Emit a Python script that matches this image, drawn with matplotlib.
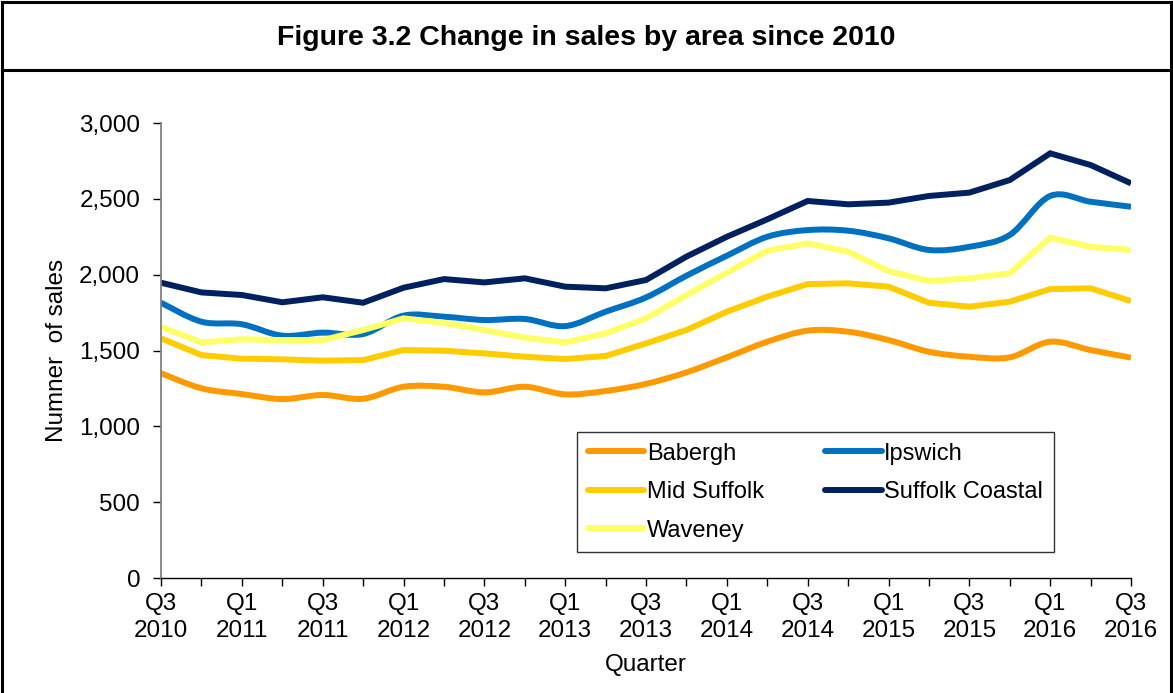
import matplotlib.pyplot as plt
from matplotlib.path import Path
from matplotlib.patches import PathPatch
from matplotlib.lines import Line2D
from matplotlib.ticker import FuncFormatter

plt.rcParams['font.family'] = ['Liberation Sans', 'DejaVu Sans']

quarters = ['Q3 2010', 'Q4 2010', 'Q1 2011', 'Q2 2011', 'Q3 2011', 'Q4 2011',
            'Q1 2012', 'Q2 2012', 'Q3 2012', 'Q4 2012', 'Q1 2013', 'Q2 2013',
            'Q3 2013', 'Q4 2013', 'Q1 2014', 'Q2 2014', 'Q3 2014', 'Q4 2014',
            'Q1 2015', 'Q2 2015', 'Q3 2015', 'Q4 2015', 'Q1 2016', 'Q2 2016',
            'Q3 2016']

babergh = [1350, 1251, 1213, 1180, 1207, 1182, 1261, 1261, 1224, 1261, 1211, 1233,
           1280, 1356, 1455, 1558, 1631, 1624, 1569, 1492, 1459, 1455, 1558, 1503,
           1453]
ipswich = [1815, 1690, 1673, 1598, 1618, 1609, 1730, 1723, 1701, 1708, 1661, 1756,
           1850, 1993, 2125, 2250, 2294, 2290, 2240, 2163, 2184, 2262, 2519, 2481,
           2448]
mid_suffolk = [1580, 1470, 1446, 1442, 1433, 1437, 1503, 1499, 1481, 1459, 1444, 1464,
               1547, 1635, 1756, 1855, 1938, 1943, 1921, 1815, 1789, 1822, 1905, 1910,
               1826]
suffolk_coastal = [1947, 1883, 1866, 1818, 1851, 1815, 1914, 1971, 1949, 1976, 1921,
                   1910, 1965, 2119, 2250, 2365, 2486, 2464, 2475, 2519, 2541, 2624,
                   2800, 2723, 2602]
waveney = [1657, 1554, 1574, 1569, 1569, 1635, 1712, 1683, 1635, 1585, 1554, 1613,
           1712, 1866, 2013, 2158, 2207, 2152, 2024, 1958, 1976, 2009, 2244, 2184,
           2163]

series = [
    ('Babergh', babergh, '#FF9900', True),
    ('Ipswich', ipswich, '#0070C0', True),
    ('Mid Suffolk', mid_suffolk, '#FFCC00', False),
    ('Suffolk Coastal', suffolk_coastal, '#002060', False),
    ('Waveney', waveney, '#FFFF66', False),
]


def smooth_path(xs, ys):
    # excel style smoothed line: cubic bezier through every point
    n = len(xs)
    verts = [(xs[0], ys[0])]
    codes = [Path.MOVETO]
    for i in range(n - 1):
        p0 = max(i - 1, 0)
        p3 = min(i + 2, n - 1)
        c1 = (xs[i] + (xs[i + 1] - xs[p0]) / 6, ys[i] + (ys[i + 1] - ys[p0]) / 6)
        c2 = (xs[i + 1] - (xs[p3] - xs[i]) / 6, ys[i + 1] - (ys[p3] - ys[i]) / 6)
        verts += [c1, c2, (xs[i + 1], ys[i + 1])]
        codes += [Path.CURVE4] * 3
    return Path(verts, codes)


fig = plt.figure(figsize=(11.73, 6.93), dpi=100)
ax = fig.add_axes([0.1373, 0.1659, 0.9642 - 0.1373, 0.8225 - 0.1659])

x = list(range(len(quarters)))
lw = 4.3
handles = {}
for name, vals, color, smooth in series:
    if smooth:
        ax.add_patch(PathPatch(smooth_path(x, vals), fill=False, edgecolor=color,
                               lw=lw, capstyle='butt', joinstyle='round'))
    else:
        ax.plot(x, vals, color=color, lw=lw, solid_joinstyle='miter',
                solid_capstyle='butt')
    handles[name] = Line2D([], [], color=color, lw=lw, solid_capstyle='round')

ax.set_xlim(0, len(quarters) - 1)
ax.set_ylim(0, 3000)
ax.set_yticks(range(0, 3001, 500))
ax.yaxis.set_major_formatter(FuncFormatter(lambda v, p: f'{int(v):,}'))
ax.set_xticks(x)
ax.set_xticklabels([q.replace(' ', '\n') if i % 2 == 0 else ''
                    for i, q in enumerate(quarters)])

for s in ['top', 'right']:
    ax.spines[s].set_visible(False)
ax.spines['left'].set_color('#808080')
ax.spines['left'].set_linewidth(1.3)
ax.spines['bottom'].set_color('black')
ax.spines['bottom'].set_linewidth(1.0)
ax.tick_params(axis='y', direction='out', length=6, width=1, color='black',
               labelsize=17.5, pad=9)
ax.tick_params(axis='x', direction='out', length=6, width=1, color='black',
               labelsize=17.5, pad=5)
for t in ax.get_xticklabels():
    t.set_linespacing(1.25)

ax.set_xlabel('Quarter', fontsize=17.5, labelpad=9)
ax.set_ylabel('Numner  of sales', fontsize=17.5, labelpad=8)

order = ['Babergh', 'Mid Suffolk', 'Waveney', 'Ipswich', 'Suffolk Coastal']
leg = ax.legend([handles[n] for n in order], order, ncol=2, loc='upper left',
                bbox_to_anchor=(0.429, 0.321), fontsize=17, frameon=True,
                fancybox=False, edgecolor='black', handlelength=2.4,
                handletextpad=0.1, columnspacing=2.6, labelspacing=0.7,
                borderpad=0.45, borderaxespad=0)
leg.get_frame().set_linewidth(1.0)

# title box and outer border
fig.text(0.5, 1 - 38 / 693, 'Figure 3.2 Change in sales by area since 2010',
         ha='center', va='center', fontsize=20.5, fontweight='bold')
border = dict(color='black', lw=2.2)
fig.add_artist(Line2D([0.002, 0.002], [0, 0.997], **border))
fig.add_artist(Line2D([0.998, 0.998], [0, 0.997], **border))
fig.add_artist(Line2D([0.002, 0.998], [0.997, 0.997], **border))
fig.add_artist(Line2D([0.002, 0.998], [1 - 70 / 693, 1 - 70 / 693], **border))

fig.savefig('out.png', dpi=100)
